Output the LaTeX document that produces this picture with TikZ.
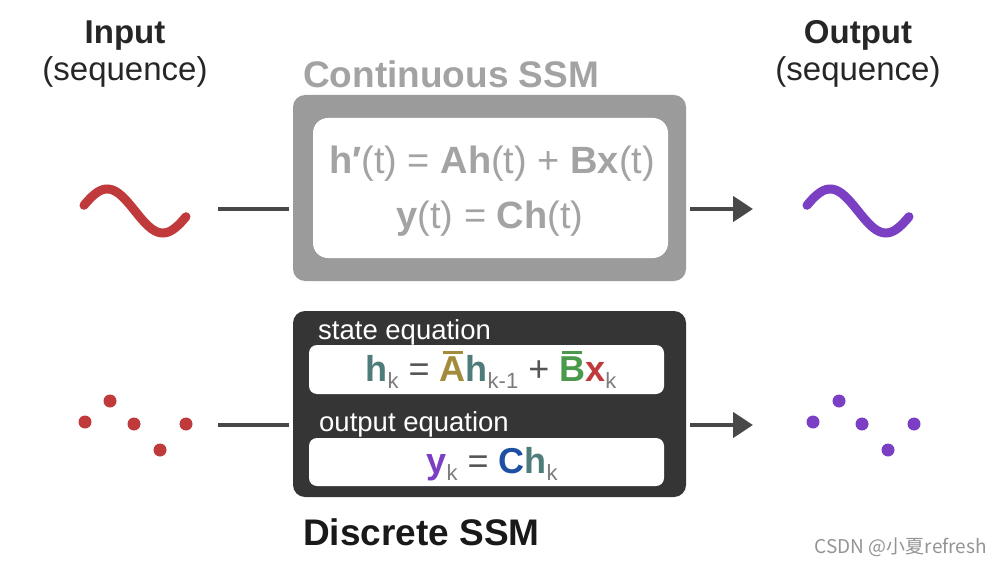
\documentclass[tikz,border=0pt]{standalone}
\usepackage{fontspec}
\setmainfont{Liberation Sans}
\newfontfamily\cjk{Noto Sans CJK SC}
\usetikzlibrary{arrows.meta}
\definecolor{lgray}{HTML}{A3A3A3}
\definecolor{boxgray}{HTML}{9B9B9B}
\definecolor{dark}{HTML}{353535}
\definecolor{conncol}{HTML}{484848}
\definecolor{sred}{HTML}{C0393B}
\definecolor{spurple}{HTML}{7B3FC4}
\definecolor{teal}{HTML}{4E7C7A}
\definecolor{olive}{HTML}{A38B3C}
\definecolor{sgreen}{HTML}{4B9A4B}
\definecolor{sblue}{HTML}{1D4FA3}
\definecolor{subgray}{HTML}{7C7C7C}
\definecolor{opgray}{HTML}{555555}
\newcommand\mybar[1]{\setbox0\hbox{#1}\makebox[0pt][l]{\hspace{0.12\wd0}\raisebox{\dimexpr\ht0+2.5pt\relax}{\rule{0.76\wd0}{3pt}}}\box0}
\newcommand\mysub[1]{\raisebox{-7pt}{\fontsize{22}{22}\selectfont\color{subgray}#1}}
\begin{document}
\begin{tikzpicture}[x=1pt,y=-1pt,
  txt/.style={inner sep=0pt, anchor=base},
  head/.style={txt, font=\fontsize{33}{36}\selectfont, text=black!85},
  title/.style={txt, anchor=base west, font=\bfseries\fontsize{37}{40}\selectfont},
  bigbox/.style={rounded corners=12pt, minimum width=393pt, minimum height=186pt, inner sep=0pt},
  whitebox/.style={fill=white, inner sep=0pt},
  eq/.style={txt, font=\fontsize{36}{40}\selectfont},
  ceqs/.style={txt, font=\fontsize{38}{40}\selectfont, text=lgray},
  label/.style={txt, anchor=base west, font=\fontsize{27.5}{30}\selectfont, text=white},
  conn/.style={draw=conncol, line width=4.5pt},
  arr/.style={conn, -{Triangle[length=20pt, width=25pt]}},
  wave/.style={line width=9pt, line cap=round},
  dot/.style={circle, inner sep=0pt, minimum size=13pt}
]
\useasboundingbox (0,0) rectangle (1001,564);

% headings
\node[head, font=\bfseries\fontsize{33}{36}\selectfont] (inT) at (125,44) {Input};
\node[head] (inS) at (125,81) {(sequence)};
\node[head, font=\bfseries\fontsize{33}{36}\selectfont] (outT) at (858,44) {Output};
\node[head] (outS) at (858,81) {(sequence)};

% continuous SSM
\node[title, text=lgray] (contT) at (303,88) {Continuous SSM};
\node[bigbox, fill=boxgray] (cont) at (489.5,188) {};
\node[whitebox, rounded corners=15pt, minimum width=355pt, minimum height=140pt] (contIn) at (490.5,188) {};
\node[ceqs] (ceq1) at (492,174) {\textbf{h′}(t) = \textbf{Ah}(t) + \textbf{Bx}(t)};
\node[ceqs] (ceq2) at (490,229) {\textbf{y}(t) = \textbf{Ch}(t)};

% discrete SSM
\node[bigbox, fill=dark] (disc) at (489.5,404) {};
\node[label] (lab1) at (318,339) {state equation};
\node[whitebox, rounded corners=8pt, minimum width=355pt, minimum height=49pt] (deq1box) at (486.5,369.5) {};
\node[label] (lab2) at (319,431) {output equation};
\node[whitebox, rounded corners=8pt, minimum width=355pt, minimum height=48pt] (deq2box) at (486.5,462) {};
\node[eq, text=opgray] (deq1) at (491,381) {\textbf{\color{teal}h}\mysub{k} = \textbf{\color{olive}\mybar{A}}\textbf{\color{teal}h}\mysub{k-1} + \textbf{\color{sgreen}\mybar{B}}\textbf{\color{sred}x}\mysub{k}};
\node[eq, text=opgray] (deq2) at (492,473) {\textbf{\color{spurple}y}\mysub{k} = \textbf{\color{sblue}C}\textbf{\color{teal}h}\mysub{k}};
\node[title, text=black!90] (discT) at (303,545) {Discrete SSM};

% waves
\draw[wave, sred] plot[domain=15:345, samples=80, smooth] ({84+(\x-15)/330*102},{211-22*sin(\x)});
\draw[wave, spurple] plot[domain=15:345, samples=80, smooth] ({807+(\x-15)/330*102},{211-22*sin(\x)});

% dots
\foreach \n/\px/\py in {1/85/422, 2/110/401, 3/134/424, 4/160/450, 5/186/424}
  \node[dot, fill=sred] (ri\n) at (\px,\py) {};
\foreach \n/\px/\py in {1/813/422, 2/839/401, 3/862/424, 4/888/450, 5/914/424}
  \node[dot, fill=spurple] (po\n) at (\px,\py) {};

% connectors
\coordinate (inA) at (218,209);
\coordinate (outA) at (753,209);
\coordinate (inB) at (218,425);
\coordinate (outB) at (753,425);
\draw[conn, shorten >=4pt] (inA) -- (inA -| cont.west);
\draw[arr, shorten <=4pt] (outA -| cont.east) -- (outA);
\draw[conn, shorten >=4pt] (inB) -- (inB -| disc.west);
\draw[arr, shorten <=4pt] (outB -| disc.east) -- (outB);

% watermark
\node[txt, anchor=base east, font=\cjk\fontsize{19}{21}\selectfont, text=black!42] (wm) at (987,553) {CSDN @小夏refresh};
\end{tikzpicture}
\end{document}
